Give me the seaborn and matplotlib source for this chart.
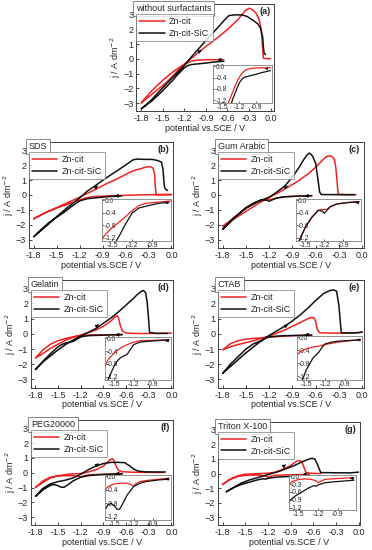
import numpy as np
import pandas as pd
import matplotlib
matplotlib.use("Agg")
import matplotlib.pyplot as plt
import seaborn as sns

sns.set_style("ticks")
plt.rcParams['font.family'] = ['Liberation Sans', 'DejaVu Sans']
plt.rcParams['axes.linewidth'] = 0.7
plt.rcParams['axes.edgecolor'] = '0.25'

# ---- data: cyclic voltammograms (potential vs SCE / V, j / A dm^-2) ----
# (a) without surfactants
a_red_x = [-0.65, -0.8, -0.95, -1.05, -1.1, -1.15, -1.2, -1.25, -1.3, -1.37, -1.45, -1.55, -1.65, -1.8,
           -1.75, -1.65, -1.5, -1.35, -1.2, -1.1, -1.0, -0.9, -0.75, -0.6, -0.45, -0.35, -0.3, -0.25,
           -0.2, -0.16, -0.13, -0.11, -0.1, -0.05, 0.0]
a_red_y = [-0.05, -0.05, -0.06, -0.1, -0.15, -0.25, -0.4, -0.6, -0.85, -1.2, -1.6, -2.0, -2.4, -3.0,
           -2.7, -2.15, -1.45, -0.85, -0.35, 0.05, 0.45, 0.85, 1.4, 2.0, 2.7, 3.3, 3.45, 3.35,
           3.1, 2.7, 2.0, 0.8, 0.05, 0.02, 0.02]
a_blk_x = [-0.65, -0.8, -0.9, -1.0, -1.1, -1.15, -1.2, -1.25, -1.3, -1.35, -1.45, -1.55, -1.65, -1.8,
           -1.75, -1.65, -1.5, -1.35, -1.25, -1.2, -1.1, -1.0, -0.9, -0.75, -0.65, -0.58, -0.5, -0.4,
           -0.33, -0.25, -0.18, -0.14, -0.11, -0.1, -0.09, -0.07]
a_blk_y = [-0.15, -0.22, -0.28, -0.33, -0.38, -0.45, -0.6, -0.85, -1.1, -1.4, -1.9, -2.4, -2.85, -3.4,
           -3.2, -2.75, -1.95, -1.2, -0.7, -0.45, 0.15, 0.7, 1.25, 2.05, 2.6, 2.95, 3.0, 3.0,
           2.9, 2.65, 2.4, 2.1, 1.5, 0.8, 0.4, 0.3]

# (b) SDS
b_red_x = [0.0, -0.3, -0.65, -0.8, -1.0, -1.1, -1.2, -1.3, -1.4, -1.5, -1.6, -1.7, -1.8,
           -1.65, -1.5, -1.35, -1.2, -1.1, -1.0, -0.85, -0.7, -0.55, -0.45, -0.4, -0.35, -0.28,
           -0.24, -0.22, -0.21, -0.2, -0.1, 0.0]
b_red_y = [0.03, 0.02, -0.03, -0.06, -0.1, -0.17, -0.33, -0.52, -0.7, -0.87, -1.08, -1.32, -1.6,
           -1.2, -0.85, -0.5, -0.15, 0.1, 0.35, 0.75, 1.1, 1.5, 1.7, 1.75, 1.85, 1.9,
           1.8, 1.4, 0.5, 0.02, 0.02, 0.03]
b_blk_x = [-0.65, -0.8, -0.95, -1.1, -1.2, -1.3, -1.4, -1.5, -1.6, -1.7, -1.8,
           -1.65, -1.5, -1.35, -1.2, -1.1, -1.0, -0.85, -0.7, -0.6, -0.5, -0.45, -0.35, -0.25,
           -0.18, -0.13, -0.11, -0.1, -0.09, -0.07, -0.05]
b_blk_y = [-0.07, -0.1, -0.17, -0.25, -0.4, -0.75, -1.15, -1.5, -1.85, -2.3, -2.8,
           -2.15, -1.45, -0.8, -0.2, 0.25, 0.6, 1.15, 1.65, 2.0, 2.35, 2.4, 2.38, 2.38,
           2.3, 2.2, 1.7, 1.0, 0.5, 0.35, 0.3]

# (c) Gum Arabic
c_red_x = [-0.65, -0.8, -1.0, -1.1, -1.15, -1.2, -1.25, -1.3, -1.4, -1.5, -1.6, -1.7, -1.8,
           -1.65, -1.5, -1.35, -1.2, -1.1, -1.0, -0.85, -0.7, -0.6, -0.5, -0.45, -0.4, -0.36,
           -0.34, -0.32, -0.31, -0.2, -0.08]
c_red_y = [-0.05, -0.07, -0.12, -0.2, -0.28, -0.3, -0.3, -0.33, -0.55, -0.85, -1.3, -1.7, -2.1,
           -1.6, -1.1, -0.6, -0.15, 0.1, 0.4, 0.85, 1.4, 1.85, 2.4, 2.6, 2.6, 2.4,
           1.8, 0.6, 0.05, 0.02, 0.02]
c_blk_x = [-0.65, -0.8, -1.0, -1.1, -1.15, -1.2, -1.23, -1.3, -1.4, -1.5, -1.6, -1.7, -1.8,
           -1.65, -1.5, -1.35, -1.2, -1.1, -1.0, -0.9, -0.82, -0.75, -0.7, -0.68, -0.64, -0.6,
           -0.57, -0.55, -0.53, -0.3, -0.1]
c_blk_y = [-0.05, -0.07, -0.12, -0.2, -0.3, -0.42, -0.35, -0.32, -0.55, -0.85, -1.3, -1.8, -2.3,
           -1.5, -0.9, -0.45, -0.15, 0.2, 0.6, 1.2, 1.8, 2.4, 2.75, 2.8, 2.6, 2.1,
           1.0, 0.2, 0.03, 0.02, 0.02]

# (d) Gelatin
d_red_x = [-0.65, -0.8, -1.0, -1.1, -1.2, -1.3, -1.4, -1.5, -1.6, -1.7, -1.8,
           -1.7, -1.6, -1.5, -1.4, -1.3, -1.2, -1.1, -1.0, -0.9, -0.8, -0.75, -0.72, -0.7,
           -0.68, -0.65, -0.6, -0.4, -0.2, 0.0]
d_red_y = [-0.05, -0.06, -0.07, -0.08, -0.12, -0.2, -0.3, -0.45, -0.68, -1.05, -1.6,
           -1.3, -0.95, -0.68, -0.42, -0.22, -0.07, 0.08, 0.25, 0.5, 0.85, 1.1, 1.2, 1.05,
           0.6, 0.2, 0.05, 0.02, 0.03, 0.05]
d_blk_x = [-0.65, -0.8, -1.0, -1.1, -1.2, -1.25, -1.3, -1.35, -1.4, -1.45, -1.5, -1.6, -1.7, -1.8,
           -1.7, -1.6, -1.5, -1.4, -1.3, -1.2, -1.1, -1.0, -0.9, -0.8, -0.7, -0.6, -0.5, -0.45,
           -0.4, -0.37, -0.34, -0.32, -0.3, -0.29, -0.2, -0.05]
d_blk_y = [-0.05, -0.07, -0.1, -0.12, -0.2, -0.35, -0.5, -0.55, -0.6, -0.7, -0.85, -1.3, -1.8, -2.35,
           -1.85, -1.45, -1.05, -0.7, -0.4, -0.15, 0.1, 0.35, 0.7, 1.05, 1.45, 1.9, 2.35, 2.6,
           2.8, 2.85, 2.7, 2.0, 0.8, 0.1, 0.03, 0.03]

# (e) CTAB
e_red_x = [-0.65, -0.8, -1.0, -1.2, -1.3, -1.4, -1.5, -1.6, -1.7, -1.8,
           -1.7, -1.6, -1.5, -1.4, -1.3, -1.2, -1.1, -1.0, -0.9, -0.8, -0.7, -0.65, -0.62,
           -0.6, -0.58, -0.55, -0.4, -0.2, -0.05, 0.0]
e_red_y = [-0.08, -0.1, -0.15, -0.22, -0.27, -0.3, -0.35, -0.45, -0.65, -1.05,
           -0.85, -0.7, -0.58, -0.45, -0.3, -0.15, 0.05, 0.25, 0.5, 0.75, 1.0, 1.08, 1.05,
           0.8, 0.3, 0.07, 0.05, 0.05, 0.08, 0.12]
e_blk_x = [-0.65, -0.8, -1.0, -1.1, -1.2, -1.25, -1.3, -1.35, -1.4, -1.5, -1.6, -1.7, -1.8,
           -1.7, -1.6, -1.5, -1.4, -1.3, -1.2, -1.1, -1.0, -0.9, -0.8, -0.7, -0.6, -0.5,
           -0.42, -0.37, -0.33, -0.3, -0.28, -0.27, -0.15, -0.05, 0.0]
e_blk_y = [-0.08, -0.1, -0.12, -0.15, -0.2, -0.3, -0.45, -0.55, -0.65, -1.0, -1.5, -2.0, -2.6,
           -2.15, -1.7, -1.25, -0.85, -0.45, -0.1, 0.2, 0.5, 0.85, 1.25, 1.7, 2.2, 2.65,
           2.85, 2.9, 2.8, 1.8, 0.6, 0.07, 0.05, 0.08, 0.12]

# (f) PEG20000
f_red_x = [-0.65, -0.8, -1.0, -1.1, -1.17, -1.2, -1.23, -1.3, -1.4, -1.5, -1.6, -1.7, -1.8,
           -1.7, -1.6, -1.5, -1.4, -1.3, -1.2, -1.1, -1.0, -0.9, -0.85, -0.8, -0.78, -0.76,
           -0.73, -0.7, -0.65, -0.5, -0.3, -0.1]
f_red_y = [-0.05, -0.08, -0.12, -0.15, -0.22, -0.3, -0.25, -0.2, -0.2, -0.22, -0.3, -0.55, -1.0,
           -0.65, -0.35, -0.2, -0.12, -0.08, -0.05, 0.05, 0.2, 0.45, 0.7, 0.92, 0.95, 0.8,
           0.4, 0.15, 0.07, 0.03, 0.02, 0.02]
f_blk_x = [-0.65, -0.8, -1.0, -1.1, -1.2, -1.3, -1.38, -1.42, -1.46, -1.5, -1.55, -1.6, -1.7, -1.8,
           -1.7, -1.6, -1.5, -1.4, -1.3, -1.2, -1.1, -1.0, -0.9, -0.8, -0.7, -0.62, -0.55,
           -0.5, -0.45, -0.35, -0.2, -0.08]
f_blk_y = [-0.08, -0.1, -0.15, -0.2, -0.3, -0.55, -0.85, -0.98, -0.98, -0.88, -0.8, -0.85, -1.15, -1.6,
           -1.05, -0.75, -0.6, -0.5, -0.35, -0.1, 0.2, 0.45, 0.62, 0.7, 0.7, 0.68, 0.45,
           0.25, 0.12, 0.06, 0.05, 0.05]

# (g) Triton X-100
g_red_x = [-0.65, -0.8, -1.0, -1.1, -1.17, -1.2, -1.23, -1.3, -1.4, -1.5, -1.6, -1.7, -1.8,
           -1.7, -1.6, -1.5, -1.4, -1.3, -1.2, -1.1, -1.0, -0.9, -0.82, -0.78, -0.75, -0.72,
           -0.7, -0.65, -0.5]
g_red_y = [-0.05, -0.07, -0.1, -0.12, -0.2, -0.25, -0.18, -0.12, -0.1, -0.12, -0.2, -0.4, -0.75,
           -0.4, -0.15, -0.05, -0.02, 0.0, 0.02, 0.1, 0.3, 0.55, 0.85, 0.9, 0.8, 0.4,
           0.1, 0.02, 0.0]
g_blk_x = [-0.65, -0.8, -1.0, -1.1, -1.2, -1.23, -1.27, -1.35, -1.45, -1.55, -1.65, -1.75,
           -1.65, -1.55, -1.45, -1.35, -1.25, -1.15, -1.05, -0.95, -0.85, -0.75, -0.68, -0.62,
           -0.58, -0.55, -0.52, -0.5, -0.3, -0.1, 0.0]
g_blk_y = [-0.15, -0.18, -0.22, -0.25, -0.33, -0.38, -0.36, -0.45, -0.6, -0.75, -0.95, -1.25,
           -0.95, -0.65, -0.45, -0.3, -0.15, 0.0, 0.15, 0.35, 0.55, 0.8, 0.95, 1.05,
           1.0, 0.7, 0.3, 0.07, 0.05, 0.05, 0.1]

surfactants = ['without surfactants', 'SDS', 'Gum Arabic', 'Gelatin', 'CTAB', 'PEG20000', 'Triton X-100']
panel_tags = ['(a)', '(b)', '(c)', '(d)', '(e)', '(f)', '(g)']
series_names = ['Zn-cit', 'Zn-cit-SiC']
main_yticks = [-3, -2, -1, 0, 1, 2, 3]
main_xticks = [-1.8, -1.5, -1.2, -0.9, -0.6, -0.3, 0.0]
inset_xticks = [-1.5, -1.2, -0.9]
inset_yticks = [0.0, -0.4, -0.8, -1.2]
inset_yticks_g = [0.0, -0.3, -0.6, -0.9, -1.2]

curves = [
    (a_red_x, a_red_y, a_blk_x, a_blk_y),
    (b_red_x, b_red_y, b_blk_x, b_blk_y),
    (c_red_x, c_red_y, c_blk_x, c_blk_y),
    (d_red_x, d_red_y, d_blk_x, d_blk_y),
    (e_red_x, e_red_y, e_blk_x, e_blk_y),
    (f_red_x, f_red_y, f_blk_x, f_blk_y),
    (g_red_x, g_red_y, g_blk_x, g_blk_y),
]

# axes boxes in figure fraction [left, bottom, width, height]
boxes = [
    [0.366, 0.798, 0.371, 0.195],
    [0.078, 0.549, 0.387, 0.193],
    [0.586, 0.549, 0.392, 0.193],
    [0.083, 0.295, 0.382, 0.196],
    [0.586, 0.295, 0.392, 0.196],
    [0.083, 0.045, 0.382, 0.191],
    [0.586, 0.045, 0.382, 0.188],
]
inset_boxes = [
    [0.56, 0.075, 0.425, 0.355],
    [0.51, 0.066, 0.475, 0.40],
    [0.535, 0.066, 0.445, 0.40],
    [0.52, 0.074, 0.465, 0.40],
    [0.54, 0.074, 0.45, 0.41],
    [0.52, 0.05, 0.465, 0.43],
    [0.50, 0.146, 0.47, 0.34],
]

RED = '#ee2222'
BLK = '#111111'
FS = 6.5

fig = plt.figure(figsize=(3.72, 5.5), dpi=100)

for i in range(7):
    rx, ry, bx, by = curves[i]
    ax = fig.add_axes(boxes[i])
    df_r = pd.DataFrame({'E': rx, 'j': ry})
    df_b = pd.DataFrame({'E': bx, 'j': by})
    sns.lineplot(data=df_r, x='E', y='j', sort=False, estimator=None, color=RED, lw=1.1,
                 label=series_names[0], ax=ax)
    sns.lineplot(data=df_b, x='E', y='j', sort=False, estimator=None, color=BLK, lw=1.1,
                 label=series_names[1], ax=ax)
    if i == 0:
        ax.set_ylim(-3.55, 3.75)
        ax.set_xlim(-1.87, 0.05)
    else:
        ax.set_ylim(-3.55, 3.55)
        ax.set_xlim(-1.86, 0.02)
    ax.set_xticks(main_xticks)
    ax.set_xticklabels([f'{v:.1f}' for v in main_xticks])
    ax.set_yticks(main_yticks)
    ax.tick_params(direction='in', length=2.5, width=0.6, labelsize=FS, pad=2)
    ax.set_xlabel('potential vs.SCE / V', fontsize=FS, labelpad=0.5)
    ax.set_ylabel('j / A dm$^{-2}$', fontsize=FS, labelpad=0)

    # surfactant title box + legend
    ax.text(0.0, 1.0, surfactants[i], transform=ax.transAxes, ha='left', va='top', fontsize=FS,
            bbox=dict(boxstyle='square,pad=0.3', fc='white', ec='0.45', lw=0.6))
    leg = ax.legend(loc='upper left', bbox_to_anchor=(0.0, 0.905), fontsize=FS, frameon=True,
                    fancybox=False, edgecolor='0.45', handlelength=2.8, handletextpad=0.5,
                    borderpad=0.35, labelspacing=0.3, borderaxespad=0.0)
    leg.get_frame().set_linewidth(0.6)
    ax.text(0.975, 0.97, panel_tags[i], transform=ax.transAxes, ha='right', va='top',
            fontsize=FS, fontweight='bold')

    # sweep arrows
    ax.annotate('', xy=(-0.93, 0.75), xytext=(-1.03, 0.35),
                arrowprops=dict(arrowstyle='-|>', color='k', lw=0.6, mutation_scale=5))
    ax.annotate('', xy=(-0.78, -0.06), xytext=(-0.66, -0.06),
                arrowprops=dict(arrowstyle='-|>', color='k', lw=0.6, mutation_scale=5))

    # inset: cathodic sweep only (up to the switching potential)
    ins = ax.inset_axes(inset_boxes[i])
    kr = int(np.argmin(rx)) + 1
    kb = int(np.argmin(bx)) + 1
    sns.lineplot(x=rx[:kr], y=ry[:kr], sort=False, estimator=None, color=RED, lw=0.9, ax=ins)
    sns.lineplot(x=bx[:kb], y=by[:kb], sort=False, estimator=None, color=BLK, lw=0.9, ax=ins)
    ins.set_xlim(-1.65, -0.62)
    ins.set_ylim(-1.3, 0.05)
    ins.set_xticks(inset_xticks)
    ins.set_xticklabels([f'{v:.1f}' for v in inset_xticks])
    yt = inset_yticks_g if i == 6 else inset_yticks
    ins.set_yticks(yt)
    ins.set_yticklabels([f'{v:.1f}' for v in yt])
    ins.tick_params(direction='in', length=1.5, width=0.5, labelsize=4.8, pad=0.8)
    ins.tick_params(axis='y', pad=-1.5)
    for lab in ins.get_yticklabels():
        lab.set_horizontalalignment('left')
    ins.set_xlabel('')
    ins.set_ylabel('')
    for s in ins.spines.values():
        s.set_color('0.5')
        s.set_linewidth(0.6)
    ins.set_facecolor('white')
    ins.annotate('', xy=(-0.75, -0.08), xytext=(-0.66, -0.08),
                 arrowprops=dict(arrowstyle='-|>', color='k', lw=0.5, mutation_scale=4))

fig.savefig('out.png', dpi=100)
